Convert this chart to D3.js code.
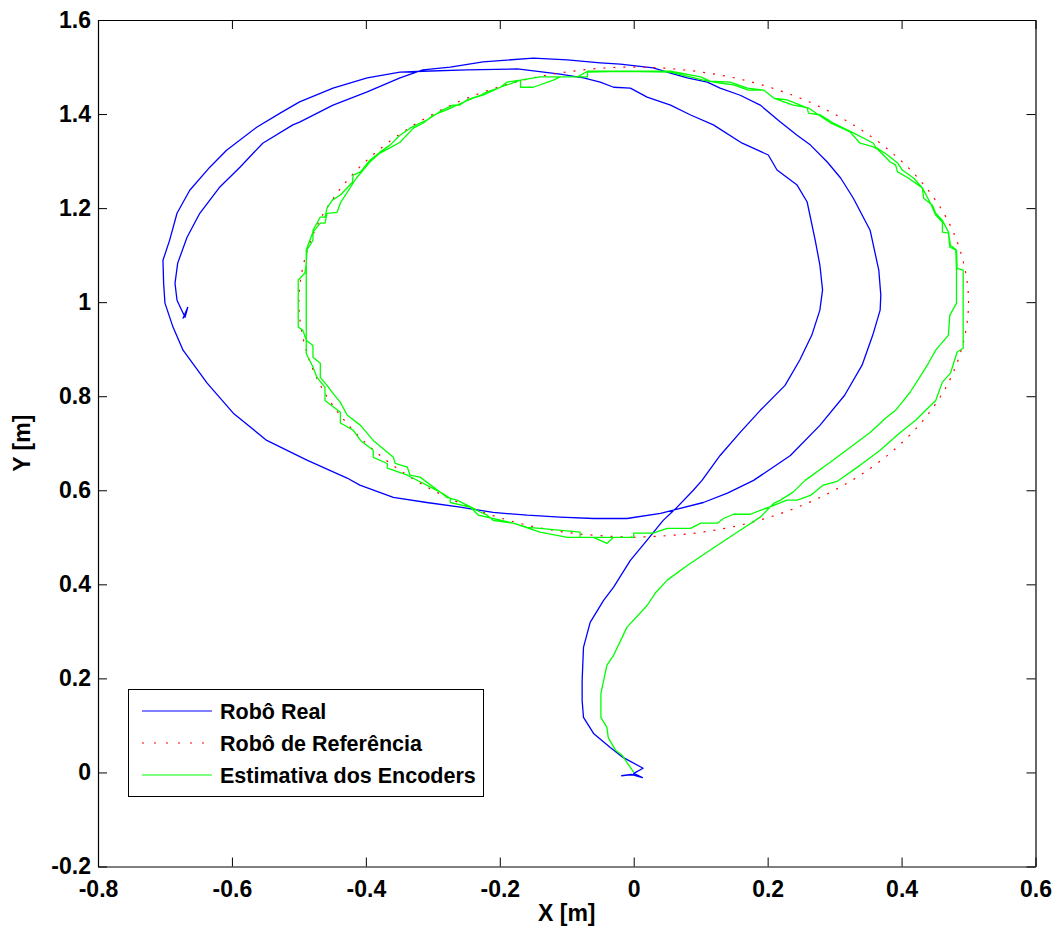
<!DOCTYPE html>
<html>
<head>
<meta charset="utf-8">
<script src="https://cdn.jsdelivr.net/npm/d3@7"></script>
<style>
html,body{margin:0;padding:0;background:#fff;}
svg{display:block;}
text{font-family:"Liberation Sans",Arial,Helvetica,sans-serif;}
</style>
</head>
<body>
<svg id="chart" width="1058" height="930"></svg>
<script>
// ---------- DATA ----------
const seriesNames = ["Robô Real", "Robô de Referência", "Estimativa dos Encoders"];
const xTickValues = [-0.8, -0.6, -0.4, -0.2, 0, 0.2, 0.4, 0.6];
const xTickLabels = ["-0.8", "-0.6", "-0.4", "-0.2", "0", "0.2", "0.4", "0.6"];
const yTickValues = [-0.2, 0, 0.2, 0.4, 0.6, 0.8, 1.0, 1.2, 1.4, 1.6];
const yTickLabels = ["-0.2", "0", "0.2", "0.4", "0.6", "0.8", "1", "1.2", "1.4", "1.6"];
const xLabel = "X [m]";
const yLabel = "Y [m]";

// Robô Real (blue)
const realPath = [
[0.0,-0.004],[-0.018,-0.007],[-0.004,-0.004],[0.013,-0.011],[0.0,-0.002],[0.014,0.009],[-0.016,0.032],
[-0.035,0.053],[-0.060,0.083],[-0.075,0.117],[-0.077,0.153],[-0.077,0.196],[-0.075,0.266],[-0.065,0.319],
[-0.045,0.366],[-0.030,0.394],[-0.005,0.451],[0.020,0.494],[0.044,0.536],[0.062,0.560],[0.089,0.600],
[0.102,0.621],[0.129,0.674],[0.159,0.723],[0.189,0.770],[0.226,0.823],[0.248,0.877],[0.266,0.930],
[0.278,0.983],[0.282,1.026],[0.278,1.079],[0.271,1.132],[0.259,1.213],[0.244,1.249],[0.214,1.281],
[0.201,1.313],[0.162,1.338],[0.119,1.377],[0.085,1.398],[0.055,1.419],[0.020,1.436],[-0.005,1.455],
[-0.030,1.457],[-0.050,1.468],[-0.075,1.477],[-0.110,1.485],[-0.174,1.496],[-0.249,1.494],[-0.315,1.491],
[-0.349,1.489],[-0.398,1.477],[-0.449,1.455],[-0.499,1.426],[-0.528,1.402],[-0.563,1.372],[-0.608,1.323],
[-0.633,1.287],[-0.663,1.238],[-0.682,1.189],[-0.693,1.132],[-0.703,1.089],[-0.702,1.040],[-0.700,0.998],
[-0.688,0.947],[-0.673,0.898],[-0.637,0.828],[-0.598,0.764],[-0.548,0.706],[-0.488,0.664],[-0.428,0.626],
[-0.409,0.611],[-0.359,0.585],[-0.309,0.574],[-0.259,0.564],[-0.210,0.553],[-0.159,0.547],[-0.110,0.543],
[-0.060,0.540],[-0.010,0.540],[0.040,0.551],[0.065,0.560],[0.104,0.574],[0.140,0.594],[0.179,0.621],
[0.234,0.674],[0.278,0.738],[0.315,0.802],[0.341,0.866],[0.357,0.930],[0.368,0.983],[0.369,1.015],
[0.366,1.068],[0.353,1.153],[0.328,1.221],[0.309,1.264],[0.289,1.298],[0.264,1.334],[0.244,1.355],
[0.219,1.383],[0.189,1.419],[0.159,1.440],[0.129,1.455],[0.110,1.468],[0.080,1.477],[0.055,1.487],
[0.029,1.498],[-0.020,1.506],[-0.050,1.509],[-0.099,1.515],[-0.150,1.519],[-0.225,1.511],[-0.274,1.500],
[-0.315,1.494],[-0.349,1.477],[-0.398,1.447],[-0.449,1.419],[-0.499,1.383],[-0.509,1.377],[-0.554,1.338],
[-0.588,1.287],[-0.618,1.245],[-0.648,1.189],[-0.667,1.138],[-0.681,1.083],[-0.685,1.040],[-0.682,1.004],
[-0.675,0.983],[-0.670,0.968],[-0.666,0.989],[-0.673,0.966],[-0.667,0.983]
];

// Robô de Referência (red dotted)
const refPath = [
[0,0.5],[0.087,0.508],[0.171,0.530],[0.250,0.567],[0.321,0.617],[0.383,0.679],[0.433,0.750],[0.470,0.829],
[0.492,0.913],[0.500,1.0],[0.492,1.087],[0.470,1.171],[0.433,1.250],[0.383,1.321],[0.321,1.383],[0.250,1.433],
[0.171,1.470],[0.087,1.492],[0,1.5],[-0.087,1.492],[-0.171,1.470],[-0.250,1.433],[-0.321,1.383],[-0.383,1.321],
[-0.433,1.250],[-0.470,1.171],[-0.492,1.087],[-0.500,1.0],[-0.492,0.913],[-0.470,0.829],[-0.433,0.750],
[-0.383,0.679],[-0.321,0.617],[-0.250,0.567],[-0.171,0.530],[-0.087,0.508],[0,0.5]
];

// Estimativa dos Encoders (green)
const encPath = [
[0.0,0.0],[-0.017,0.036],[-0.027,0.047],[-0.038,0.074],[-0.040,0.096],[-0.049,0.117],[-0.049,0.168],
[-0.040,0.228],[-0.030,0.249],[-0.010,0.309],[0.020,0.355],[0.032,0.381],[0.050,0.409],[0.080,0.440],
[0.125,0.483],[0.159,0.515],[0.189,0.543],[0.209,0.572],[0.219,0.579],[0.238,0.596],[0.256,0.621],
[0.294,0.660],[0.323,0.691],[0.353,0.723],[0.376,0.753],[0.391,0.770],[0.403,0.791],[0.413,0.809],
[0.431,0.849],[0.440,0.870],[0.451,0.898],[0.470,0.930],[0.472,0.972],[0.482,0.998],[0.482,1.068],
[0.481,1.111],[0.472,1.117],[0.470,1.147],[0.461,1.149],[0.461,1.170],[0.451,1.185],[0.443,1.211],
[0.431,1.243],[0.418,1.264],[0.401,1.281],[0.394,1.296],[0.379,1.313],[0.361,1.330],[0.358,1.338],
[0.328,1.360],[0.298,1.381],[0.279,1.398],[0.261,1.402],[0.259,1.413],[0.229,1.430],[0.209,1.434],
[0.194,1.451],[0.170,1.455],[0.144,1.468],[0.114,1.470],[0.100,1.479],[0.055,1.491],[-0.020,1.491],
[-0.069,1.489],[-0.069,1.479],[-0.110,1.479],[-0.120,1.472],[-0.150,1.457],[-0.169,1.457],[-0.169,1.472],
[-0.199,1.457],[-0.219,1.447],[-0.229,1.440],[-0.249,1.430],[-0.260,1.419],[-0.270,1.419],[-0.285,1.409],
[-0.309,1.387],[-0.319,1.381],[-0.334,1.370],[-0.349,1.355],[-0.364,1.334],[-0.379,1.319],[-0.394,1.302],
[-0.408,1.277],[-0.419,1.270],[-0.420,1.255],[-0.438,1.228],[-0.450,1.217],[-0.458,1.200],[-0.461,1.181],
[-0.468,1.181],[-0.479,1.153],[-0.479,1.132],[-0.488,1.111],[-0.489,1.083],[-0.491,1.062],[-0.501,1.047],
[-0.501,0.947],[-0.494,0.940],[-0.489,0.919],[-0.489,0.891],[-0.479,0.862],[-0.473,0.840],[-0.461,0.819],
[-0.461,0.791],[-0.438,0.766],[-0.438,0.743],[-0.419,0.728],[-0.408,0.706],[-0.389,0.685],[-0.389,0.670],
[-0.368,0.657],[-0.368,0.647],[-0.338,0.632],[-0.289,0.596],[-0.274,0.583],[-0.274,0.574],[-0.244,0.564],
[-0.232,0.547],[-0.210,0.540],[-0.180,0.530],[-0.140,0.511],[-0.099,0.500],[-0.060,0.500],[-0.040,0.487],
[-0.030,0.500],[0.0,0.500],[0.0,0.509],[0.029,0.509],[0.050,0.519],[0.085,0.519],[0.100,0.530],[0.125,0.530],
[0.134,0.540],[0.149,0.549],[0.174,0.549],[0.209,0.568],[0.229,0.579],[0.244,0.579],[0.264,0.589],
[0.283,0.611],[0.304,0.619],[0.338,0.653],[0.368,0.685],[0.398,0.723],[0.421,0.749],[0.436,0.770],
[0.451,0.791],[0.461,0.830],[0.473,0.849],[0.483,0.894],[0.492,0.902],[0.492,1.068],[0.483,1.072],
[0.482,1.111],[0.473,1.121],[0.470,1.149],[0.461,1.174],[0.451,1.189],[0.446,1.206],[0.433,1.221],
[0.431,1.243],[0.410,1.264],[0.394,1.277],[0.391,1.292],[0.383,1.298],[0.365,1.324],[0.358,1.330],
[0.338,1.338],[0.323,1.362],[0.294,1.381],[0.261,1.413],[0.238,1.419],[0.209,1.434],[0.194,1.451],
[0.171,1.451],[0.149,1.462],[0.129,1.466],[0.104,1.472],[0.055,1.489],[-0.020,1.491],[-0.069,1.491],
[-0.084,1.479],[-0.120,1.479],[-0.140,1.479],[-0.169,1.472],[-0.189,1.468],[-0.199,1.457],[-0.225,1.440],
[-0.240,1.434],[-0.264,1.419],[-0.279,1.409],[-0.299,1.398],[-0.314,1.381],[-0.329,1.370],[-0.349,1.340],
[-0.364,1.328],[-0.379,1.317],[-0.394,1.298],[-0.414,1.264],[-0.438,1.211],[-0.443,1.191],[-0.458,1.189],
[-0.461,1.168],[-0.468,1.168],[-0.479,1.149],[-0.489,1.111],[-0.489,0.919],[-0.479,0.908],[-0.479,0.883],
[-0.468,0.870],[-0.468,0.840],[-0.458,0.823],[-0.449,0.806],[-0.438,0.787],[-0.428,0.760],[-0.408,0.738],
[-0.389,0.706],[-0.359,0.670],[-0.356,0.657],[-0.338,0.649],[-0.334,0.632],[-0.319,0.628],[-0.279,0.585],
[-0.264,0.579],[-0.240,0.562],[-0.234,0.557],[-0.219,0.547],[-0.210,0.536],[-0.180,0.530],[-0.159,0.521],
[-0.140,0.519],[-0.080,0.511],[-0.080,0.500],[-0.040,0.500],[0.0,0.500]
];

const seriesColors = ["#0000ff", "#ff0000", "#00ff00"];

// ---------- LAYOUT ----------
(function () {
const W = 1058, H = 930;
const mLeft = 98, mTop = 20, mRight = 1035.5, mBottom = 866.5;

const svg = d3.select("#chart");
const x = d3.scaleLinear().domain([-0.8, 0.6]).range([mLeft, mRight]);
const y = d3.scaleLinear().domain([-0.2, 1.6]).range([mBottom, mTop]);

svg.append("rect").attr("width", W).attr("height", H).attr("fill", "#fff");

const line = d3.line().x(d => x(d[0])).y(d => y(d[1]));
const smooth = d3.line().x(d => x(d[0])).y(d => y(d[1])).curve(d3.curveCatmullRom);

const plot = svg.append("g");
plot.append("path").datum(realPath).attr("d", line)
  .attr("fill", "none").attr("stroke", seriesColors[0]).attr("stroke-width", 1.3).attr("stroke-linejoin", "round");
plot.append("path").datum(refPath).attr("d", smooth)
  .attr("fill", "none").attr("stroke", seriesColors[1]).attr("stroke-width", 1.2).attr("stroke-dasharray", "2,8");
plot.append("path").datum(encPath).attr("d", line)
  .attr("fill", "none").attr("stroke", seriesColors[2]).attr("stroke-width", 1.3).attr("stroke-linejoin", "round");

// ---------- AXES ----------
const fontSize = 23;
function styleAxis(g) {
  g.select(".domain").attr("stroke", "#000").attr("stroke-width", 1.2);
  g.selectAll(".tick line").attr("stroke", "#000").attr("stroke-width", 1);
  g.selectAll(".tick text").attr("fill", "#000").attr("font-size", fontSize)
    .attr("font-weight", "bold").attr("font-family", "'Liberation Sans', Arial, sans-serif");
}
const xAxis = d3.axisBottom(x).tickValues(xTickValues)
  .tickFormat((d, i) => xTickLabels[i]).tickSizeInner(-9).tickSizeOuter(0).tickPadding(14);
svg.append("g").attr("transform", `translate(0,${mBottom})`).call(xAxis).call(styleAxis);

const xAxisTop = d3.axisTop(x).tickValues(xTickValues).tickFormat("").tickSizeInner(-9).tickSizeOuter(0);
svg.append("g").attr("transform", `translate(0,${mTop})`).call(xAxisTop).call(styleAxis);

const yAxis = d3.axisLeft(y).tickValues(yTickValues)
  .tickFormat((d, i) => yTickLabels[i]).tickSizeInner(-9).tickSizeOuter(0).tickPadding(7);
svg.append("g").attr("transform", `translate(${mLeft},0)`).call(yAxis).call(styleAxis);

const yAxisRight = d3.axisRight(y).tickValues(yTickValues).tickFormat("").tickSizeInner(-9).tickSizeOuter(0);
svg.append("g").attr("transform", `translate(${mRight},0)`).call(yAxisRight).call(styleAxis);

// axis labels
svg.append("text").attr("x", (mLeft + mRight) / 2).attr("y", 921).attr("text-anchor", "middle")
  .attr("font-size", fontSize).attr("font-weight", "bold").text(xLabel);
svg.append("text").attr("transform", `translate(30,${(mTop + mBottom) / 2}) rotate(-90)`)
  .attr("text-anchor", "middle").attr("font-size", fontSize).attr("font-weight", "bold").text(yLabel);

// ---------- LEGEND ----------
const lg = svg.append("g");
lg.append("rect").attr("x", 128.5).attr("y", 689.5).attr("width", 355).attr("height", 107)
  .attr("fill", "#fff").attr("stroke", "#000").attr("stroke-width", 1);
const rowY = [711, 743, 775];
seriesNames.forEach((name, i) => {
  lg.append("line").attr("x1", 142).attr("x2", 212).attr("y1", rowY[i]).attr("y2", rowY[i])
    .attr("stroke", seriesColors[i]).attr("stroke-width", 1.2)
    .attr("stroke-dasharray", i === 1 ? "2,10" : null);
  lg.append("text").attr("x", 220).attr("y", rowY[i]).attr("dy", "0.36em")
    .attr("font-size", 21.5).attr("font-weight", "bold").attr("fill", "#000").text(name);
});
})();
</script>
</body>
</html>
